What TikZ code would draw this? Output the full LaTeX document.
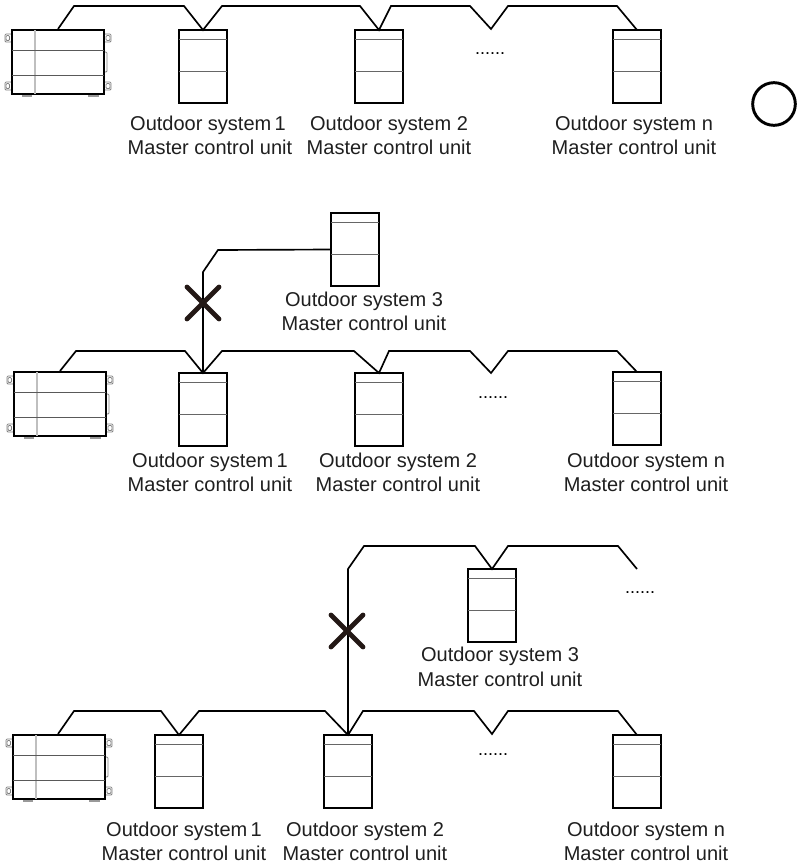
\documentclass[tikz,border=0pt]{standalone}
\usepackage{fontspec}
\setmainfont{Liberation Sans}
\usetikzlibrary{calc}
\definecolor{crossdark}{HTML}{231815}
\tikzset{
  unitbox/.style={draw=black,line width=1.5pt,fill=white,minimum width=36pt,minimum height=54.75pt,inner sep=0pt,outer sep=0pt},
  outbox/.style={draw=black,line width=0.9pt,fill=white,minimum width=69pt,minimum height=48pt,inner sep=0pt,outer sep=0pt},
  wire/.style={draw=black,line width=1.25pt,line join=miter},
  inner/.style={draw=black!60,line width=0.7pt},
  band/.style={draw=black!65,line width=1pt},
  pale/.style={draw=black!25,line width=1pt},
  lab/.style={font=\fontsize{15pt}{18pt}\selectfont,text=black!88,inner sep=0pt,outer sep=0pt},
  dots/.style={font=\fontsize{13.5pt}{15pt}\selectfont,text=black,inner sep=0pt},
  cross/.style={draw=crossdark,line width=3.6pt,line cap=round},
  clip1/.style={draw=black!50,line width=0.6pt,fill=white,rounded corners=0.8pt},
}
\newcommand{\sysunit}[3]{% name, centre x, top y
  \node[unitbox] (#1) at (#2,#3+36.5) {};
  \draw[inner] ($(#1.north west)+(0,9)$) -- ($(#1.north east)+(0,9)$);
  \draw[inner] ($(#1.north west)+(0,41)$) -- ($(#1.north east)+(0,41)$);
}
\newcommand{\outunit}[3]{% name, left x, top y
  \begin{scope}[shift={(#2,#3)}]
    \fill[black!40] (10,64) rectangle (20,66.5);
    \fill[black!40] (76,64) rectangle (87,66.5);
    \draw[clip1] (92,22) rectangle (95,42);
    \foreach \yy in {4,52}{
      \draw[clip1] (-7,\yy) rectangle (0,\yy+8);
      \draw[clip1] (-6,\yy+1.5) rectangle (-2.5,\yy+6.5);
      \draw[clip1] (92,\yy) rectangle (99,\yy+8);
      \draw[clip1] (94,\yy+1.5) rectangle (98,\yy+6.5);
    }
  \end{scope}
  \node[outbox] (#1) at (#2+46,#3+32) {};
  \draw[pale] ($(#1.north west)+(23,0)$) -- ($(#1.south west)+(23,0)$);
  \draw[band] ($(#1.north west)+(0,20.5)$) -- ($(#1.north east)+(0,20.5)$);
  \draw[band] ($(#1.north west)+(0,45.5)$) -- ($(#1.north east)+(0,45.5)$);
}
\newcommand{\twolabel}[5]{% name, x1, x2, y of first line, number
  \node[lab] (#1a) at (#2,#4) {Outdoor system#5};
  \node[lab] (#1b) at (#3,#4+22.5) {Master control unit};
}
\begin{document}
\begin{tikzpicture}[x=0.75pt,y=-0.75pt]
\useasboundingbox (0,0) rectangle (800,864);
\fill[white] (0,0) rectangle (800,864);

% ---- row 1
\outunit{oa}{12}{30}
\sysunit{aa}{203}{30}
\sysunit{ab}{379}{30}
\sysunit{an}{637}{30}
\draw[wire] ($(oa.north west)+(46,-1)$) -- (74,6) -- (184,6) -- (aa.north) -- (222,6) -- (360,6) -- (ab.north) -- (391,6) -- (470,6) -- (491,29) -- (508,6) -- (617,6) -- (an.north);
\node[dots] (da) at (490,54) {......};
\twolabel{la1}{208}{210}{125}{\,1}
\twolabel{la2}{389}{389}{125}{ 2}
\twolabel{lan}{634}{634}{125}{ n}
\node[draw=black,line width=2.2pt,circle,minimum size=32pt,inner sep=0pt] (ok) at (774,104) {};

% ---- row 2
\sysunit{bx}{355}{213}
\draw[wire] (bx.west) -- (218,250) -- (203,272) -- (203,373);
\draw[cross] (187,287) -- (219,319) (219,287) -- (187,319);
\node[lab] (lbxa) at (364,301) {Outdoor system 3};
\node[lab] (lbxb) at (364,323) {Master control unit};
\outunit{ob}{14}{372}
\sysunit{ba}{203}{373}
\sysunit{bb}{379}{373}
\sysunit{bn}{637}{372}
\draw[wire] ($(ob.north west)+(46,-1)$) -- (76,351) -- (185,351) -- (ba.north) -- (222,351) -- (354,351) -- (bb.north) -- (389,351) -- (470,351) -- (491,373) -- (508,351) -- (617,351) -- (bn.north);
\node[dots] (db) at (493,398) {......};
\twolabel{lb1}{210}{210}{462}{\,1}
\twolabel{lb2}{398}{398}{462}{ 2}
\twolabel{lbn}{646}{646}{462}{ n}

% ---- row 3
\sysunit{cx}{492}{569}
\outunit{oc}{13}{735}
\sysunit{ca}{179}{735}
\sysunit{cb}{348}{735}
\sysunit{cn}{637}{735}
\draw[wire] (cb.north) -- (348,569) -- (364,546) -- (475,546) -- (cx.north) -- (508,546) -- (618,546) -- (637,569);
\draw[cross] (331,615) -- (363,647) (363,615) -- (331,647);
\node[dots] (dc) at (640,593) {......};
\node[lab] (lcxa) at (500,656) {Outdoor system 3};
\node[lab] (lcxb) at (500,679) {Master control unit};
\draw[wire] ($(oc.north west)+(45,-1)$) -- (74,711) -- (161,711) -- (ca.north) -- (199,711) -- (325,711) -- (cb.north) -- (363,711) -- (474,711) -- (492,734) -- (508,711) -- (618,711) -- (cn.north);
\node[dots] (dd) at (493,755) {......};
\twolabel{lc1}{184}{184}{831}{\,1}
\twolabel{lc2}{365}{365}{831}{ 2}
\twolabel{lcn}{646}{646}{831}{ n}
\end{tikzpicture}
\end{document}
